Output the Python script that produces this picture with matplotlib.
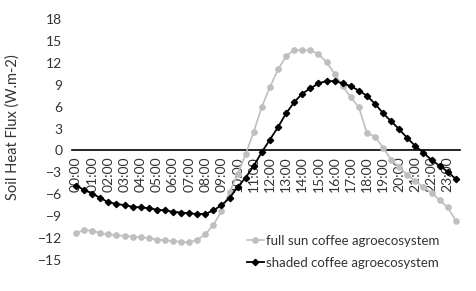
import matplotlib.pyplot as plt
import numpy as np

plt.rcParams['font.family'] = ['Lato', 'DejaVu Sans']

# half-hourly times 00:00 .. 23:30
times = ["%02d:%02d" % (h, m) for h in range(24) for m in (0, 30)]

full_sun = [-11.3, -10.9, -11.0, -11.3, -11.5, -11.6, -11.7, -11.8, -11.9, -12.0,
            -12.2, -12.3, -12.4, -12.5, -12.6, -12.2, -11.5, -10.2, -8.3, -5.7,
            -3.2, -0.5, 2.6, 6.0, 8.7, 11.1, 12.9, 13.8, 13.7, 13.7,
            13.2, 12.1, 10.5, 8.8, 7.3, 5.9, 2.4, 1.9, 0.4, -1.3,
            -2.3, -3.3, -4.2, -5.0, -5.8, -6.8, -7.8, -9.6]
shaded = [-4.8, -5.4, -5.9, -6.5, -7.1, -7.3, -7.5, -7.7, -7.8, -7.9,
          -8.1, -8.2, -8.4, -8.5, -8.6, -8.7, -8.7, -8.2, -7.5, -6.5,
          -5.0, -3.7, -2.1, -0.2, 1.5, 3.2, 5.1, 6.6, 7.8, 8.5,
          9.2, 9.5, 9.5, 9.2, 8.8, 8.2, 7.5, 6.4, 5.1, 4.0,
          2.9, 1.7, 0.6, -0.3, -1.3, -2.1, -2.9, -3.9]
yticks = [-15, -12, -9, -6, -3, 0, 3, 6, 9, 12, 15, 18]

fig = plt.figure(figsize=(4.77, 2.91), dpi=100)
ax = fig.add_axes([0.151, 0.1065, 0.813, 0.828])

for s in ['top', 'right', 'left']:
    ax.spines[s].set_visible(False)
ax.spines['bottom'].set_position(('data', 0))
ax.spines['bottom'].set_linewidth(1.2)
ax.spines['bottom'].set_zorder(0)

x = np.arange(len(times))
ax.plot(x, full_sun, color='#BFBFBF', lw=1.2, marker='o', ms=3.8,
        label='full sun coffee agroecosystem')
ax.plot(x, shaded, color='black', lw=1.3, marker='D', ms=3.2,
        label='shaded coffee agroecosystem')

ax.set_xlim(-0.5, len(times) - 0.5)
ax.set_ylim(-15, 18)
ax.set_yticks(yticks)
ax.set_xticks(x[::2])
ax.set_xticklabels(times[::2])
ax.tick_params(axis='x', length=0, pad=4, labelrotation=90, labelsize=10,
               labelcolor='#333333')
ax.tick_params(axis='y', length=0, pad=7, labelsize=10, labelcolor='#333333')

fig.text(0.027, 0.564, 'Soil Heat Flux (W.m-2)', rotation=90, ha='center', va='center',
         fontsize=10.5, color='#333333')

ax.legend(loc='upper left', bbox_to_anchor=(0.503, 0.215), bbox_transform=fig.transFigure,
          frameon=False, fontsize=9.5, handlelength=1.3, handletextpad=0.15,
          labelspacing=0.75, borderpad=0, labelcolor='#333333')

fig.savefig('out.png', dpi=100)
